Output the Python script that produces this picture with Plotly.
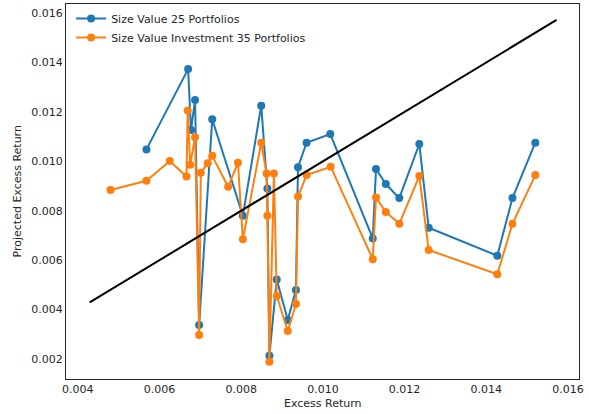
import plotly.graph_objects as go

# Size Value 25 Portfolios
blue_x = [0.00568, 0.00670, 0.00677, 0.00687, 0.00697, 0.00729, 0.00804, 0.00849,
          0.00864, 0.00869, 0.00887, 0.00914, 0.00934, 0.00939, 0.00960, 0.01018,
          0.01122, 0.01130, 0.01154, 0.01187, 0.01236, 0.01259, 0.01427, 0.01464, 0.01520]
blue_y = [0.01048, 0.01373, 0.01127, 0.01248, 0.00337, 0.01170, 0.00780, 0.01225,
          0.00890, 0.00213, 0.00522, 0.00358, 0.00479, 0.00976, 0.01075, 0.01110,
          0.00688, 0.00969, 0.00908, 0.00851, 0.01070, 0.00731, 0.00618, 0.00851, 0.01075]

# Size Value Investment 35 Portfolios
orange_x = [0.00480, 0.00568, 0.00625, 0.00666, 0.00669, 0.00675, 0.00687, 0.00697,
            0.00701, 0.00718, 0.00729, 0.00768, 0.00792, 0.00804, 0.00849, 0.00862,
            0.00864, 0.00869, 0.00880, 0.00887, 0.00914, 0.00934, 0.00939, 0.00960,
            0.01019, 0.01122, 0.01130, 0.01154, 0.01187, 0.01236, 0.01259, 0.01427,
            0.01464, 0.01520]
orange_y = [0.00884, 0.00921, 0.01001, 0.00938, 0.01205, 0.00986, 0.01097, 0.00297,
            0.00954, 0.00992, 0.01022, 0.00897, 0.00994, 0.00684, 0.01075, 0.00951,
            0.00780, 0.00189, 0.00951, 0.00455, 0.00313, 0.00422, 0.00857, 0.00944,
            0.00978, 0.00604, 0.00853, 0.00795, 0.00747, 0.00940, 0.00641, 0.00543,
            0.00747, 0.00944]

# 45-degree reference line endpoints
diag = [0.00429, 0.01572]

x_ticks = [0.004, 0.006, 0.008, 0.010, 0.012, 0.014, 0.016]
y_ticks = [0.002, 0.004, 0.006, 0.008, 0.010, 0.012, 0.014, 0.016]

fig = go.Figure()
fig.add_trace(go.Scatter(x=blue_x, y=blue_y, mode="lines+markers",
                         name="Size Value 25 Portfolios",
                         line=dict(color="#1f77b4", width=2),
                         marker=dict(color="#1f77b4", size=8)))
fig.add_trace(go.Scatter(x=orange_x, y=orange_y, mode="lines+markers",
                         name="Size Value Investment 35 Portfolios",
                         line=dict(color="#ff7f0e", width=2),
                         marker=dict(color="#ff7f0e", size=8)))
fig.add_trace(go.Scatter(x=diag, y=diag, mode="lines", showlegend=False,
                         line=dict(color="black", width=2)))

axis_common = dict(showline=True, mirror=True, linecolor="#262626", linewidth=1.3,
                   showgrid=False, zeroline=False, ticks="", automargin=False,
                   tickfont=dict(family="DejaVu Sans", size=11, color="#262626"),
                   tickformat=".3f")

fig.update_layout(
    width=589, height=414,
    margin=dict(l=66, r=10, t=4, b=35),
    plot_bgcolor="white", paper_bgcolor="white",
    font=dict(family="DejaVu Sans", size=11, color="#262626"),
    xaxis=dict(range=[0.00371, 0.01627], tickvals=x_ticks, **axis_common),
    yaxis=dict(range=[0.00119, 0.016364], tickvals=y_ticks, **axis_common),
    legend=dict(x=0.01, y=1.0, xanchor="left", yanchor="top",
                bgcolor="rgba(0,0,0,0)", borderwidth=0,
                font=dict(family="DejaVu Sans", size=11, color="#262626"),
                tracegroupgap=0),
    showlegend=True,
    annotations=[
        dict(text="Excess Return", xref="paper", yref="paper", x=0.5, y=0,
             xanchor="center", yanchor="middle", yshift=-24, showarrow=False,
             font=dict(family="DejaVu Sans", size=11, color="#262626")),
        dict(text="Projected Excess Return", xref="paper", yref="paper", x=0, y=0.5,
             xanchor="center", yanchor="middle", xshift=-49, textangle=-90,
             showarrow=False,
             font=dict(family="DejaVu Sans", size=11, color="#262626")),
    ],
)

fig.write_html("out.html", config={"displayModeBar": False},
               post_script="document.body.style.margin='0';document.body.style.overflow='hidden';")
